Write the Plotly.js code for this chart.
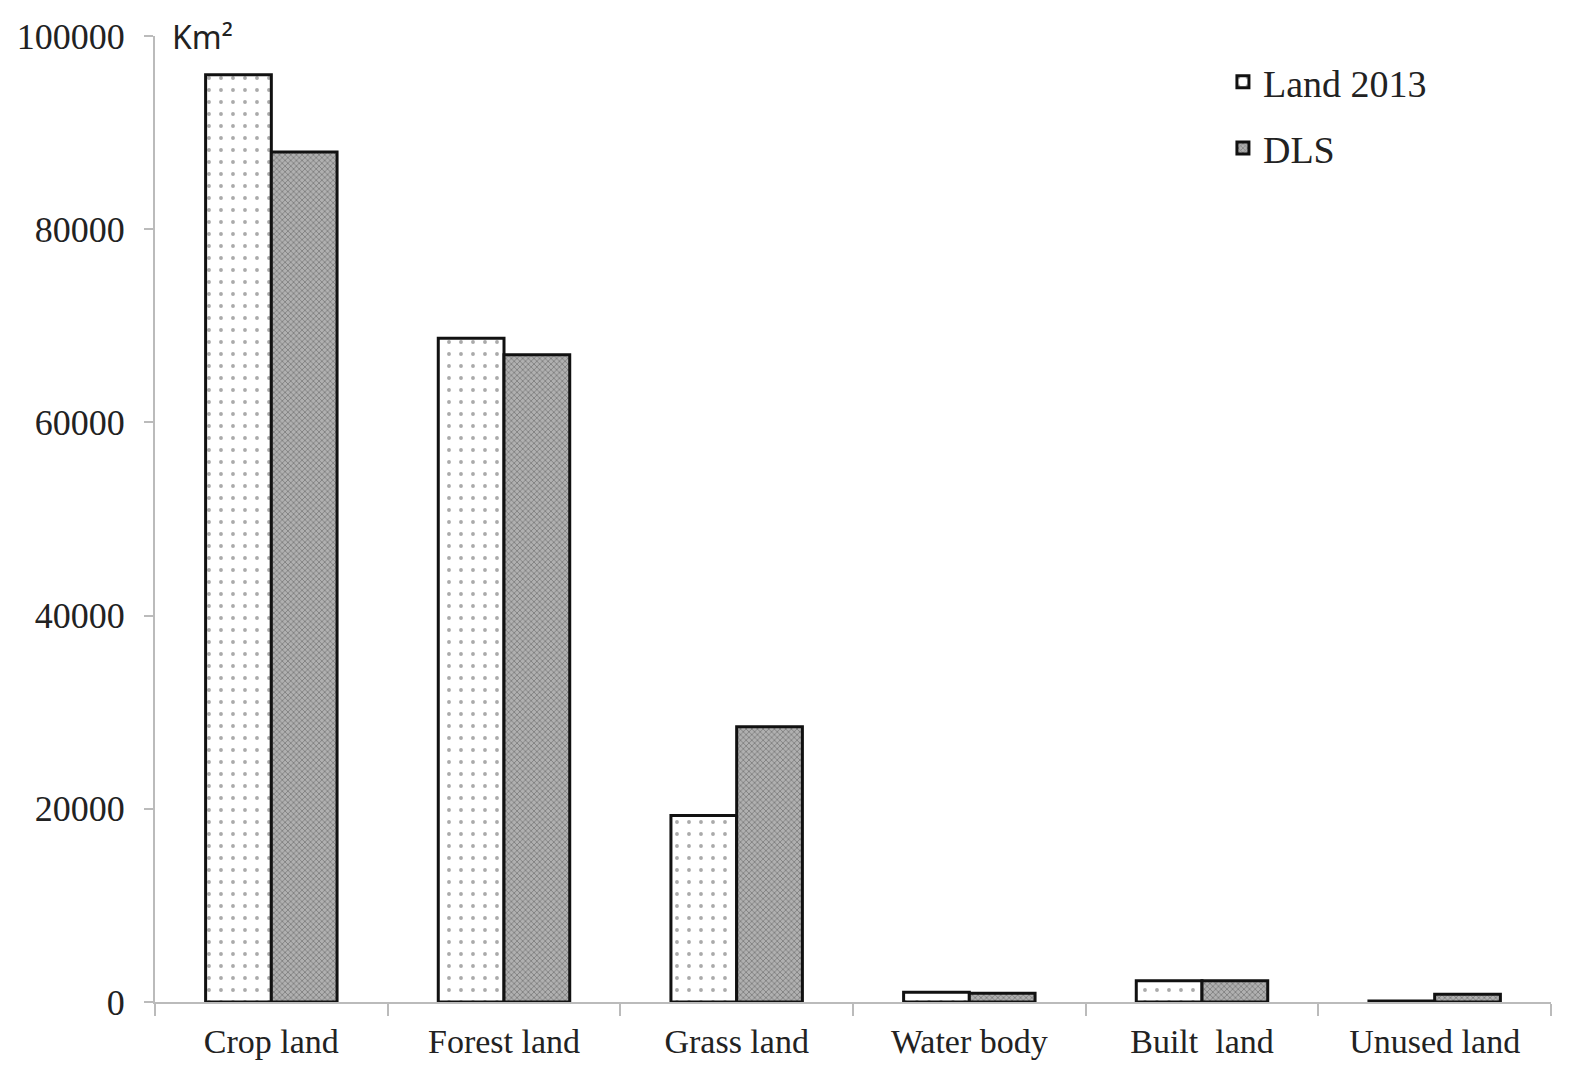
<!DOCTYPE html>
<html>
<head>
<meta charset="utf-8">
<script src="https://cdn.plot.ly/plotly-3.0.1.min.js"></script>
<style>html,body{margin:0;padding:0;background:#fff;}#chart{width:1573px;height:1080px;}</style>
</head>
<body>
<div id="chart"></div>
<script>
const categories = ["Crop land", "Forest land", "Grass land", "Water body", "Built  land", "Unused land"];
const land2013 = [96000, 68700, 19300, 1000, 2200, 100];
const dls = [88000, 67000, 28500, 900, 2200, 800];
const seriesNames = ["Land 2013", "DLS"];
const yTicks = [0, 20000, 40000, 60000, 80000, 100000];

const serif = "Liberation Serif, Times New Roman, serif";

const traces = [
  {
    type: "bar", name: seriesNames[0], x: categories, y: land2013, legendgroup: "a",
    marker: {color: "#ffffff", line: {color: "#111", width: 3},
      pattern: {shape: ".", fgcolor: "#aaaaaa", bgcolor: "#ffffff", size: 12, solidity: 0.08}}
  },
  {
    type: "bar", name: seriesNames[1], x: categories, y: dls, legendgroup: "b",
    marker: {color: "#a0a0a0", line: {color: "#111", width: 3},
      pattern: {shape: "x", fgcolor: "#808080", bgcolor: "#b0b0b0", size: 4, solidity: 0.4}}
  }
];

const layout = {
  width: 1573, height: 1080,
  margin: {l: 155, r: 22, t: 36, b: 78},
  paper_bgcolor: "#fff", plot_bgcolor: "#fff",
  barmode: "group", bargap: 0.435, bargroupgap: 0,
  showlegend: true,
  legend: {x: 0.765, y: 0.985, xanchor: "left", yanchor: "top", traceorder: "grouped",
    tracegroupgap: 14, font: {family: serif, size: 38, color: "#222"}, bgcolor: "rgba(0,0,0,0)",
    itemwidth: 30},
  xaxis: {
    type: "category", showline: true, linecolor: "#bbb", linewidth: 2,
    ticks: "outside", tickson: "boundaries", ticklen: 12, tickcolor: "#bbb", tickwidth: 2,
    tickfont: {family: serif, size: 34, color: "#222"}, showgrid: false, zeroline: false,
    ticklabelstandoff: 8
  },
  yaxis: {
    range: [0, 100000], tickvals: yTicks, ticktext: yTicks.map(String),
    showline: true, linecolor: "#bbb", linewidth: 2,
    ticks: "outside", ticklen: 9, tickcolor: "#bbb", tickwidth: 2,
    tickfont: {family: serif, size: 36, color: "#222"}, showgrid: false, zeroline: false,
    ticklabelstandoff: 12
  },
  annotations: [{
    text: "Km²", xref: "paper", yref: "paper", x: 0.011, y: 1.0, xanchor: "left", yanchor: "middle",
    showarrow: false, font: {family: "Noto Sans, sans-serif", size: 32, color: "#222"}
  }]
};

Plotly.newPlot("chart", traces, layout, {displayModeBar: false, staticPlot: true});
</script>
</body>
</html>
